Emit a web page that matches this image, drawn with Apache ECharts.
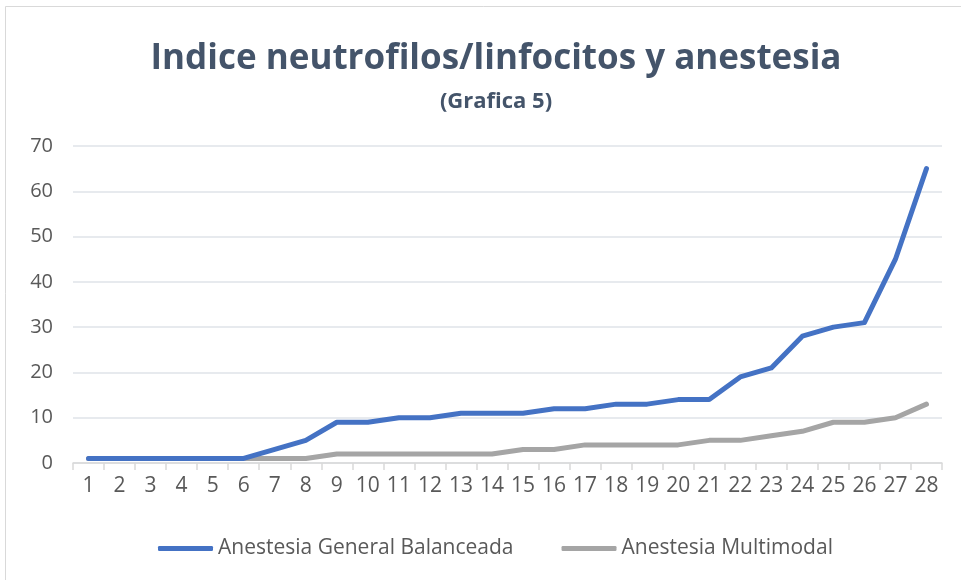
<!DOCTYPE html>
<html><head><meta charset="utf-8">
<script src="https://cdn.jsdelivr.net/npm/echarts@6/dist/echarts.min.js"></script>
<style>html,body{margin:0;padding:0;background:#fff}#c{width:961px;height:580px}</style>
</head><body><div id="c"></div>
<script>
const categories = ['1','2','3','4','5','6','7','8','9','10','11','12','13','14','15','16','17','18','19','20','21','22','23','24','25','26','27','28'];
const generalBalanceada = [1,1,1,1,1,1,3,5,9,9,10,10,11,11,11,12,12,13,13,14,14,19,21,28,30,31,45,65];
const multimodal = [1,1,1,1,1,1,1,1,2,2,2,2,2,2,3,3,4,4,4,4,5,5,6,7,9,9,10,13];
const seriesNames = ['Anestesia General Balanceada','Anestesia Multimodal'];
const titleText = 'Indice neutrofilos/linfocitos y anestesia';
const subtitleText = '(Grafica 5)';

const chart = echarts.init(document.getElementById('c'), null, {renderer:'canvas'});
const font = '"Open Sans", "Noto Sans", sans-serif';
chart.setOption({
  animation:false,
  backgroundColor:'#fff',
  graphic:[{type:'rect',shape:{x:5.5,y:6.5,width:980,height:600},style:{fill:'none',stroke:'#d9d9d9',lineWidth:1},silent:true}],
  title:{text:titleText,subtext:subtitleText,left:491,textAlign:'center',top:37,itemGap:14,
    textStyle:{fontFamily:font,fontWeight:'bold',fontSize:35,color:'#44546a'},
    subtextStyle:{fontFamily:font,fontWeight:'bold',fontSize:22,color:'#44546a'}},
  grid:{left:73,right:19,top:146,bottom:117,containLabel:false},
  legend:{bottom:16,left:153,itemGap:48,itemWidth:55,itemHeight:5,
    icon:'roundRect',
    textStyle:{fontFamily:font,fontSize:21,color:'#595959'},
    data:seriesNames},
  xAxis:{type:'category',data:categories,boundaryGap:true,
    axisLine:{lineStyle:{color:'#d9d9d9',width:1.5}},
    axisTick:{show:true,length:7,lineStyle:{color:'#d9d9d9',width:1.5}},
    axisLabel:{fontFamily:font,fontSize:21,color:'#595959',margin:13,interval:0}},
  yAxis:{type:'value',min:0,max:70,interval:10,
    axisLine:{show:false},axisTick:{show:false},
    axisLabel:{fontFamily:font,fontSize:20,color:'#595959',margin:20},
    splitLine:{lineStyle:{color:'#dfe3e8',width:1.5}}},
  series:[
    {name:seriesNames[0],type:'line',data:generalBalanceada,symbol:'none',z:3,
      lineStyle:{color:'#4472c4',width:5,cap:'round',join:'round'},itemStyle:{color:'#4472c4'}},
    {name:seriesNames[1],type:'line',data:multimodal,symbol:'none',z:2,
      lineStyle:{color:'#a5a5a5',width:5,cap:'round',join:'round'},itemStyle:{color:'#a5a5a5'}}
  ]
});
</script></body></html>
